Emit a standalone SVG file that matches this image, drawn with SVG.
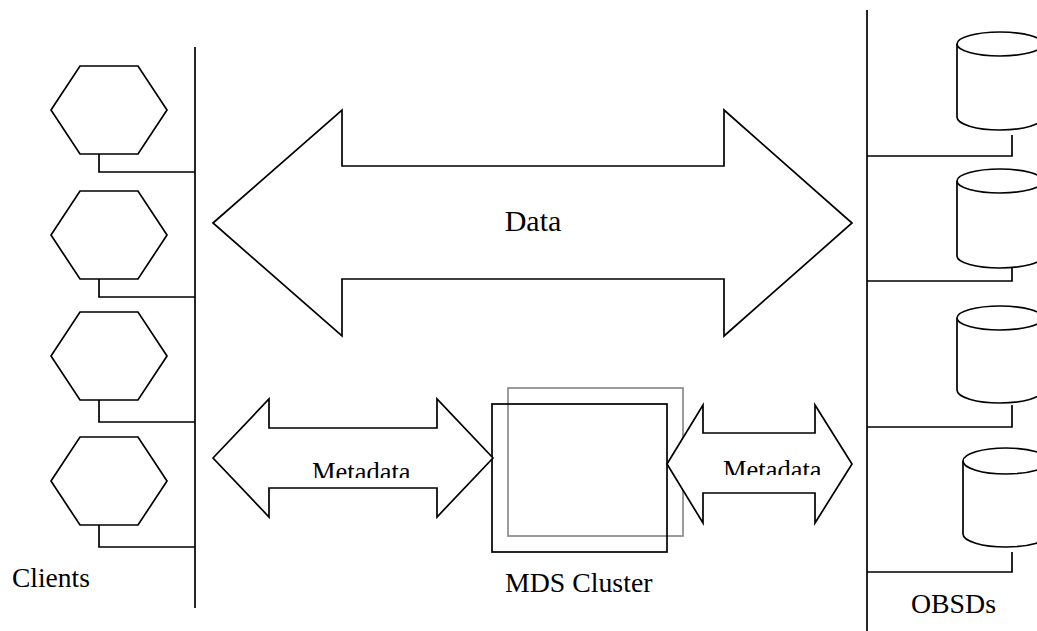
<svg xmlns="http://www.w3.org/2000/svg" width="1037" height="631" viewBox="0 0 1037 631">
  <style>
    .ln { fill: none; stroke: #000; stroke-width: 1.7; }
    .shape { fill: #fff; stroke: #000; stroke-width: 1.7; stroke-linejoin: miter; }
    .grey { fill: none; stroke: #8a8a8a; stroke-width: 1.7; }
    .lbl { font-family: "Liberation Serif", "Times New Roman", serif; fill: #000; }
  </style>
  <defs>
    <polygon id="hex" points="29,0 87,0 116,44 87,88 29,88 0,44"/>
    <clipPath id="clipMetaL"><rect x="300" y="440" width="120" height="38"/></clipPath>
    <clipPath id="clipMetaR"><rect x="710" y="440" width="120" height="35"/></clipPath>
  </defs>
  <rect width="1037" height="631" fill="#fff"/>

  <!-- bus lines and stubs -->
  <g id="connectors">
    <line class="ln" x1="195" y1="47" x2="195" y2="608"/>
    <line class="ln" x1="867" y1="10" x2="867" y2="631"/>
    <polyline class="ln" points="99,154 99,172 195,172"/>
    <polyline class="ln" points="99,279 99,297 195,297"/>
    <polyline class="ln" points="99,400 99,422 195,422"/>
    <polyline class="ln" points="99,525 99,547 195,547"/>
    <polyline class="ln" points="1012,135 1012,156 867,156"/>
    <polyline class="ln" points="1012,260 1012,281 867,281"/>
    <polyline class="ln" points="1012,405 1012,427 867,427"/>
    <polyline class="ln" points="1012,552 1012,572 867,572"/>
  </g>

  <!-- clients -->
  <g id="client1"><use href="#hex" class="shape" x="51" y="66"/></g>
  <g id="client2"><use href="#hex" class="shape" x="51" y="191"/></g>
  <g id="client3"><use href="#hex" class="shape" x="51" y="312"/></g>
  <g id="client4"><use href="#hex" class="shape" x="51" y="437"/></g>
  <g id="clients-label"><text class="lbl" x="12" y="587" font-size="27.5">Clients</text></g>

  <!-- object storage devices -->
  <g id="osd1">
    <path class="shape" d="M957,44 L957,117 A43,13 0 0 0 1043,117 L1043,44"/>
    <ellipse class="shape" cx="1000" cy="44" rx="43" ry="12"/>
  </g>
  <g id="osd2">
    <path class="shape" d="M957,181 L957,256 A43,12 0 0 0 1043,256 L1043,181"/>
    <ellipse class="shape" cx="1000" cy="181" rx="43" ry="12"/>
  </g>
  <g id="osd3">
    <path class="shape" d="M957,318 L957,390 A43,13 0 0 0 1043,390 L1043,318"/>
    <ellipse class="shape" cx="1000" cy="318" rx="43" ry="12"/>
  </g>
  <g id="osd4">
    <path class="shape" d="M963,461 L963,534 A43,13 0 0 0 1049,534 L1049,461"/>
    <ellipse class="shape" cx="1006" cy="461" rx="43" ry="13"/>
  </g>
  <g id="osds-label"><text class="lbl" x="911" y="613" font-size="27.8">OBSDs</text></g>

  <!-- data path -->
  <g id="data-arrow">
    <polygon class="shape" points="213,223 342,110 342,166 724,166 724,110 852,223 724,336 724,279 342,279 342,336"/>
    <text class="lbl" x="533" y="231" font-size="30" text-anchor="middle">Data</text>
  </g>

  <!-- metadata server cluster -->
  <g id="mds-cluster">
    <rect class="grey" x="508" y="388" width="175" height="148"/>
    <rect class="ln" x="492" y="404" width="175" height="148"/>
    <text class="lbl" x="505" y="592" font-size="27.8">MDS Cluster</text>
  </g>

  <!-- metadata paths -->
  <g id="metadata-client">
    <polygon class="shape" points="213,458 269,399 269,428 437,428 437,399 493,458 437,517 437,488 269,488 269,517"/>
    <text class="lbl" x="312" y="481" font-size="26.5" clip-path="url(#clipMetaL)">Metadata</text>
  </g>
  <g id="metadata-osd">
    <polygon class="shape" points="667,464 703,405 703,433 815,433 815,405 852,464 815,523 815,493 703,493 703,523"/>
    <text class="lbl" x="723" y="479" font-size="26.5" clip-path="url(#clipMetaR)">Metadata</text>
  </g>
</svg>
